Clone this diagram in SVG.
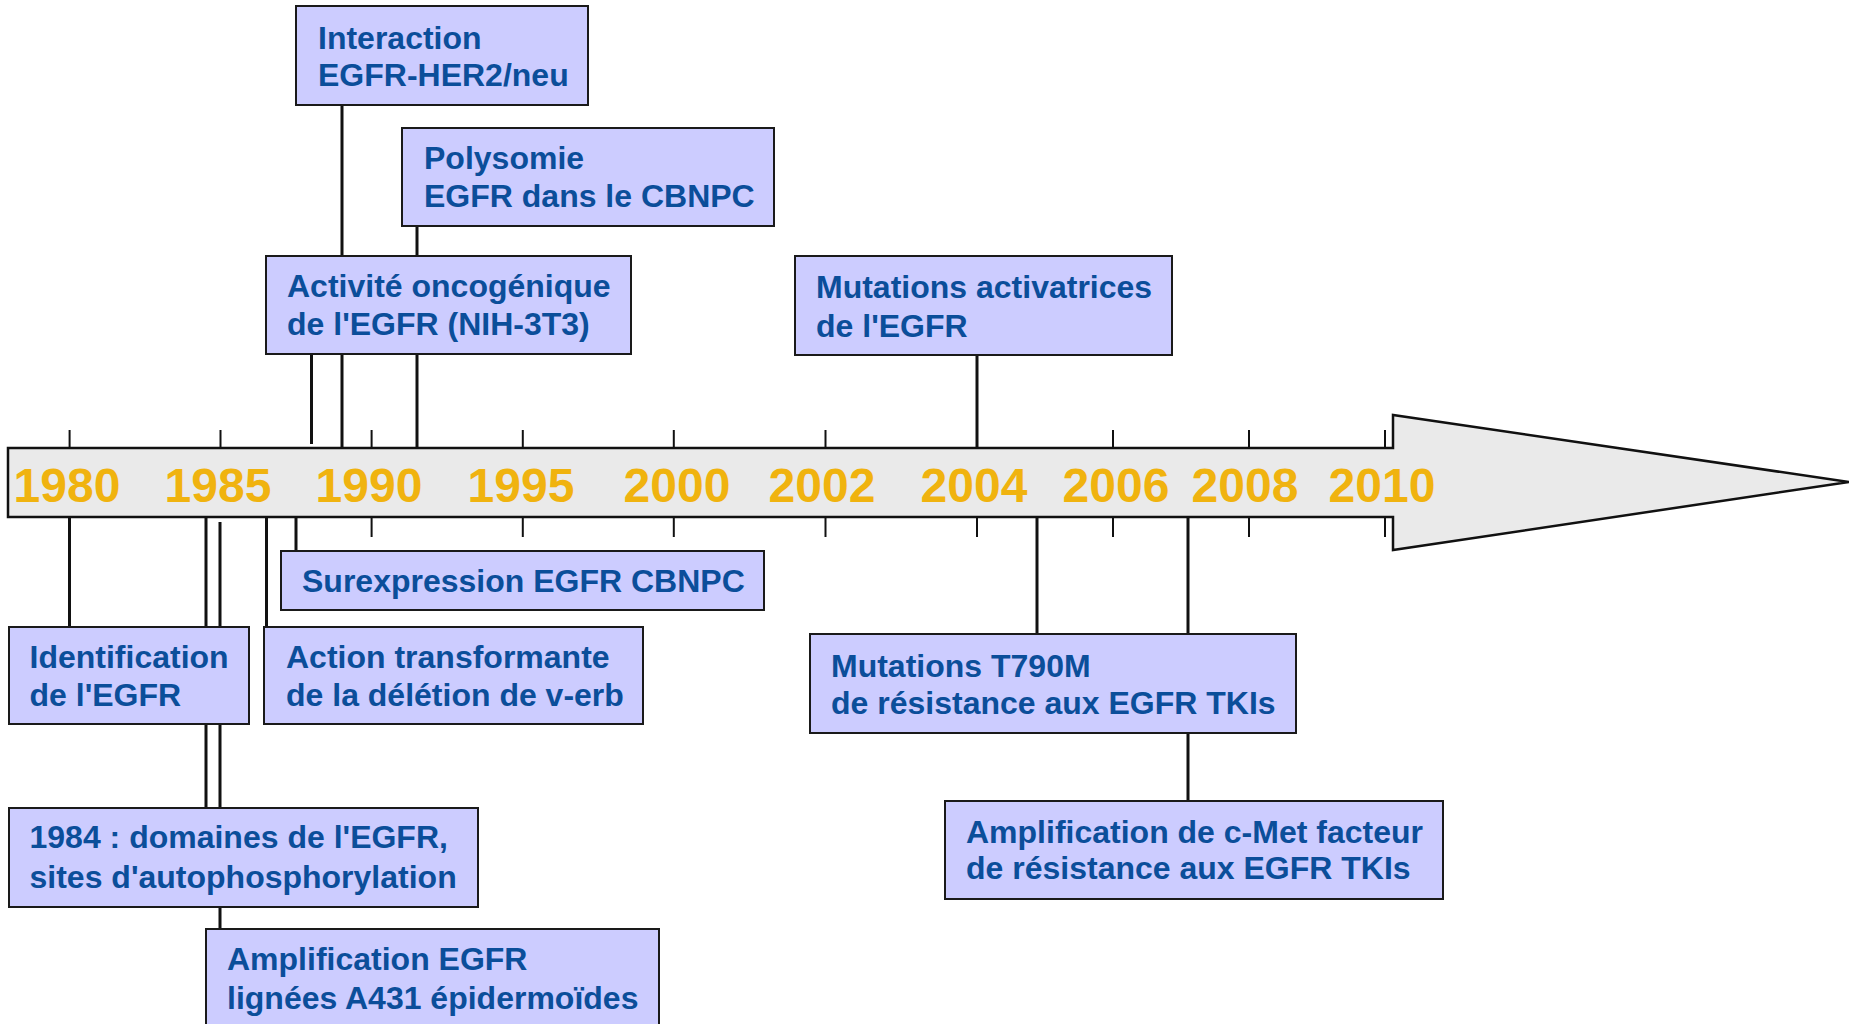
<svg xmlns="http://www.w3.org/2000/svg" width="1849" height="1024" viewBox="0 0 1849 1024">
<style>
.box{fill:#CCCCFF;stroke:#1a1a1a;stroke-width:2}
.t{font-family:"Liberation Sans",Arial,sans-serif;font-weight:bold;font-size:32px;fill:#0B4E9A}
.yr{font-family:"Liberation Sans",Arial,sans-serif;font-weight:bold;font-size:48px;fill:#F0B30F;text-anchor:middle}
.tick{stroke:#111;stroke-width:2}
.con{stroke:#111;stroke-width:3;fill:none}
</style>
<rect width="1849" height="1024" fill="#ffffff"/>
<g id="timeline">
<polygon points="8,448 1393,448 1393,415 1849,482 1393,550 1393,517 8,517" fill="#EAEAEA" stroke="#111" stroke-width="2.5" stroke-linejoin="miter"/>
<g id="ticks">
<line class="tick" x1="69.6" y1="430" x2="69.6" y2="448"/>
<line class="tick" x1="220.5" y1="430" x2="220.5" y2="448"/>
<line class="tick" x1="371.6" y1="430" x2="371.6" y2="448"/>
<line class="tick" x1="522.8" y1="430" x2="522.8" y2="448"/>
<line class="tick" x1="673.8" y1="430" x2="673.8" y2="448"/>
<line class="tick" x1="825.5" y1="430" x2="825.5" y2="448"/>
<line class="tick" x1="1113" y1="430" x2="1113" y2="448"/>
<line class="tick" x1="1249" y1="430" x2="1249" y2="448"/>
<line class="tick" x1="1385" y1="430" x2="1385" y2="448"/>
<line class="tick" x1="371.6" y1="517" x2="371.6" y2="537"/>
<line class="tick" x1="522.8" y1="517" x2="522.8" y2="537"/>
<line class="tick" x1="673.8" y1="517" x2="673.8" y2="537"/>
<line class="tick" x1="825.5" y1="517" x2="825.5" y2="537"/>
<line class="tick" x1="977" y1="517" x2="977" y2="537"/>
<line class="tick" x1="1113" y1="517" x2="1113" y2="537"/>
<line class="tick" x1="1249" y1="517" x2="1249" y2="537"/>
<line class="tick" x1="1385" y1="517" x2="1385" y2="537"/>
</g>
<g id="years">
<text class="yr" x="67" y="502">1980</text>
<text class="yr" x="218" y="502">1985</text>
<text class="yr" x="369" y="502">1990</text>
<text class="yr" x="521" y="502">1995</text>
<text class="yr" x="677" y="502">2000</text>
<text class="yr" x="822" y="502">2002</text>
<text class="yr" x="974" y="502">2004</text>
<text class="yr" x="1116" y="502">2006</text>
<text class="yr" x="1245" y="502">2008</text>
<text class="yr" x="1382" y="502">2010</text>
</g>
</g>
<g id="connectors">
<line class="con" x1="342" y1="105" x2="342" y2="448"/>
<line class="con" x1="417" y1="226" x2="417" y2="448"/>
<line class="con" x1="311.5" y1="354" x2="311.5" y2="444"/>
<line class="con" x1="977" y1="355" x2="977" y2="448"/>
<line class="con" x1="69.5" y1="517" x2="69.5" y2="627"/>
<line class="con" x1="206" y1="517" x2="206" y2="808"/>
<line class="con" x1="220" y1="522" x2="220" y2="929"/>
<line class="con" x1="266.5" y1="517" x2="266.5" y2="627"/>
<line class="con" x1="296" y1="517" x2="296" y2="551"/>
<line class="con" x1="1037" y1="517" x2="1037" y2="634"/>
<line class="con" x1="1188" y1="517" x2="1188" y2="801"/>
</g>
<g id="n-interaction">
<rect class="box" x="296" y="6" width="292" height="99"/>
<text class="t" x="318" y="49">Interaction</text>
<text class="t" x="318" y="86">EGFR-HER2/neu</text>
</g>
<g id="n-polysomie">
<rect class="box" x="402" y="128" width="372" height="98"/>
<text class="t" x="424" y="169">Polysomie</text>
<text class="t" x="424" y="207">EGFR dans le CBNPC</text>
</g>
<g id="n-activite">
<rect class="box" x="266" y="256" width="365" height="98"/>
<text class="t" x="287" y="297">Activité oncogénique</text>
<text class="t" x="287" y="335">de l'EGFR (NIH-3T3)</text>
</g>
<g id="n-mutations-activatrices">
<rect class="box" x="795" y="256" width="377" height="99"/>
<text class="t" x="816" y="298">Mutations activatrices</text>
<text class="t" x="816" y="337">de l'EGFR</text>
</g>
<g id="n-surexpression">
<rect class="box" x="281" y="551" width="483" height="59"/>
<text class="t" x="302" y="592">Surexpression EGFR CBNPC</text>
</g>
<g id="n-identification">
<rect class="box" x="9" y="627" width="240" height="97"/>
<text class="t" x="29.5" y="668">Identification</text>
<text class="t" x="29.5" y="706">de l'EGFR</text>
</g>
<g id="n-action">
<rect class="box" x="264" y="627" width="379" height="97"/>
<text class="t" x="286" y="668">Action transformante</text>
<text class="t" x="286" y="706">de la délétion de v-erb</text>
</g>
<g id="n-1984">
<rect class="box" x="9" y="808" width="469" height="99"/>
<text class="t" x="29.5" y="848">1984 : domaines de l'EGFR,</text>
<text class="t" x="29.5" y="888">sites d'autophosphorylation</text>
</g>
<g id="n-amplification-egfr">
<rect class="box" x="206" y="929" width="453" height="100"/>
<text class="t" x="227" y="970">Amplification EGFR</text>
<text class="t" x="227" y="1009">lignées A431 épidermoïdes</text>
</g>
<g id="n-t790m">
<rect class="box" x="810" y="634" width="486" height="99"/>
<text class="t" x="831" y="677">Mutations T790M</text>
<text class="t" x="831" y="714">de résistance aux EGFR TKIs</text>
</g>
<g id="n-cmet">
<rect class="box" x="945" y="801" width="498" height="98"/>
<text class="t" x="966" y="843">Amplification de c-Met facteur</text>
<text class="t" x="966" y="879">de résistance aux EGFR TKIs</text>
</g>
</svg>
